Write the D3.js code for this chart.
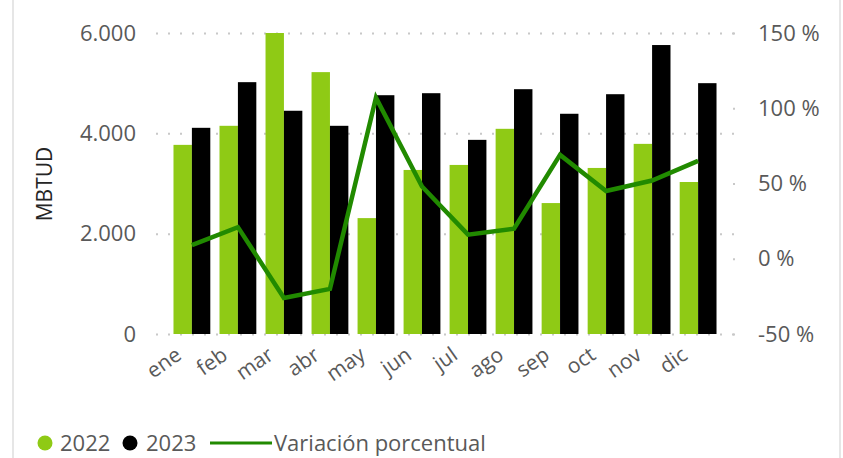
<!DOCTYPE html>
<html><head><meta charset="utf-8">
<script src="https://cdn.jsdelivr.net/npm/d3@7"></script>
<style>body{margin:0;background:#fff}svg{display:block}text{font-family:"Open Sans","Noto Sans",sans-serif}</style>
</head><body><svg id="c" width="843" height="458"></svg>
<script>
const months = ["ene","feb","mar","abr","may","jun","jul","ago","sep","oct","nov","dic"];
const v2022 = [3770,4150,6000,5220,2310,3270,3370,4090,2610,3310,3790,3030];
const v2023 = [4110,5020,4450,4150,4760,4800,3870,4880,4390,4780,5760,5000];
const variacion = [9,21,-26,-20,107,48,16,20,69,45,52,65];
const leftTicks = [0,2000,4000,6000];
const rightTicks = [-50,0,50,100,150];
const seriesNames = ["2022","2023"];
const colors = {"2022":"#8fca15","2023":"#000000",line:"#218a00"};

const svg = d3.select("#c");
const L = 156, R = 734, T = 33, B = 334;
svg.append("line").attr("x1",13).attr("x2",13).attr("y1",0).attr("y2",458).attr("stroke","#e6e6e6").attr("stroke-width",2);
svg.append("line").attr("x1",840).attr("x2",840).attr("y1",0).attr("y2",458).attr("stroke","#e6e6e6").attr("stroke-width",2);

const x = d3.scaleBand().domain(months).range([L,R]).paddingInner(0.2).paddingOuter(0.38);
const xs = d3.scaleBand().domain(seriesNames).range([0,x.bandwidth()]);
const y = d3.scaleLinear().domain([0,6000]).range([B,T]);
const y2 = d3.scaleLinear().domain([-50,150]).range([B,T]);
const fmt = d3.formatLocale({decimal:",",thousands:".",grouping:[3],currency:["",""]}).format(",");

// gridlines
const gy = svg.append("g").attr("transform",`translate(${L},0)`)
  .call(d3.axisLeft(y).tickValues(leftTicks).tickSize(-(R-L)).tickFormat(fmt).tickPadding(20));
gy.select(".domain").remove();
gy.selectAll(".tick line").attr("stroke","#c8c8c8").attr("stroke-width",2).attr("stroke-dasharray","2,10");
gy.selectAll(".tick text").attr("fill","#595959").attr("font-size",22).attr("x",-20);

const gy2 = svg.append("g").attr("transform",`translate(${R},0)`)
  .call(d3.axisRight(y2).tickValues(rightTicks).tickSize(2).tickFormat(d=>d+" %").tickPadding(22));
gy2.select(".domain").remove();
gy2.selectAll(".tick line").attr("stroke","#c8c8c8").attr("stroke-width",2).attr("x1",-1).attr("x2",1);
gy2.selectAll(".tick text").attr("fill","#595959").attr("font-size",22);

// bars
const groups = svg.append("g").selectAll("g").data(months).join("g")
  .attr("transform",d=>`translate(${x(d)},0)`);
groups.selectAll("rect").data((d,i)=>[{s:"2022",v:v2022[i]},{s:"2023",v:v2023[i]}]).join("rect")
  .attr("x",d=>xs(d.s)).attr("width",xs.bandwidth())
  .attr("y",d=>y(d.v)).attr("height",d=>B-y(d.v)).attr("fill",d=>colors[d.s]);

// line
const line = d3.line().x((d,i)=>x(months[i])+x.bandwidth()/2).y(d=>y2(d));
svg.append("path").datum(variacion).attr("d",line).attr("fill","none")
  .attr("stroke",colors.line).attr("stroke-width",4.5).attr("stroke-linejoin","miter");

// x axis labels
const gx = svg.append("g").attr("transform",`translate(0,${B})`)
  .call(d3.axisBottom(x).tickSize(0));
gx.select(".domain").remove();
gx.selectAll(".tick text").attr("fill","#595959").attr("font-size",21)
  .attr("text-anchor","end").attr("dy","0").attr("transform","translate(-9,24) rotate(-35)").attr("y",0).attr("x",0);

// y title
svg.append("text").attr("transform","translate(52,184) rotate(-90)").attr("text-anchor","middle")
  .attr("fill","#252525").attr("font-size",21).text("MBTUD");

// legend
const lg = svg.append("g").attr("transform","translate(0,443)");
lg.append("circle").attr("cx",45).attr("cy",0).attr("r",7.5).attr("fill",colors["2022"]);
lg.append("text").attr("x",60).attr("y",8).attr("fill","#595959").attr("font-size",22).text("2022");
lg.append("circle").attr("cx",130).attr("cy",0).attr("r",7.5).attr("fill",colors["2023"]);
lg.append("text").attr("x",146).attr("y",8).attr("fill","#595959").attr("font-size",22).text("2023");
lg.append("line").attr("x1",210).attr("x2",272).attr("y1",0).attr("y2",0).attr("stroke",colors.line).attr("stroke-width",3);
lg.append("text").attr("x",274).attr("y",8).attr("fill","#595959").attr("font-size",22).text("Variación porcentual");
</script></body></html>
